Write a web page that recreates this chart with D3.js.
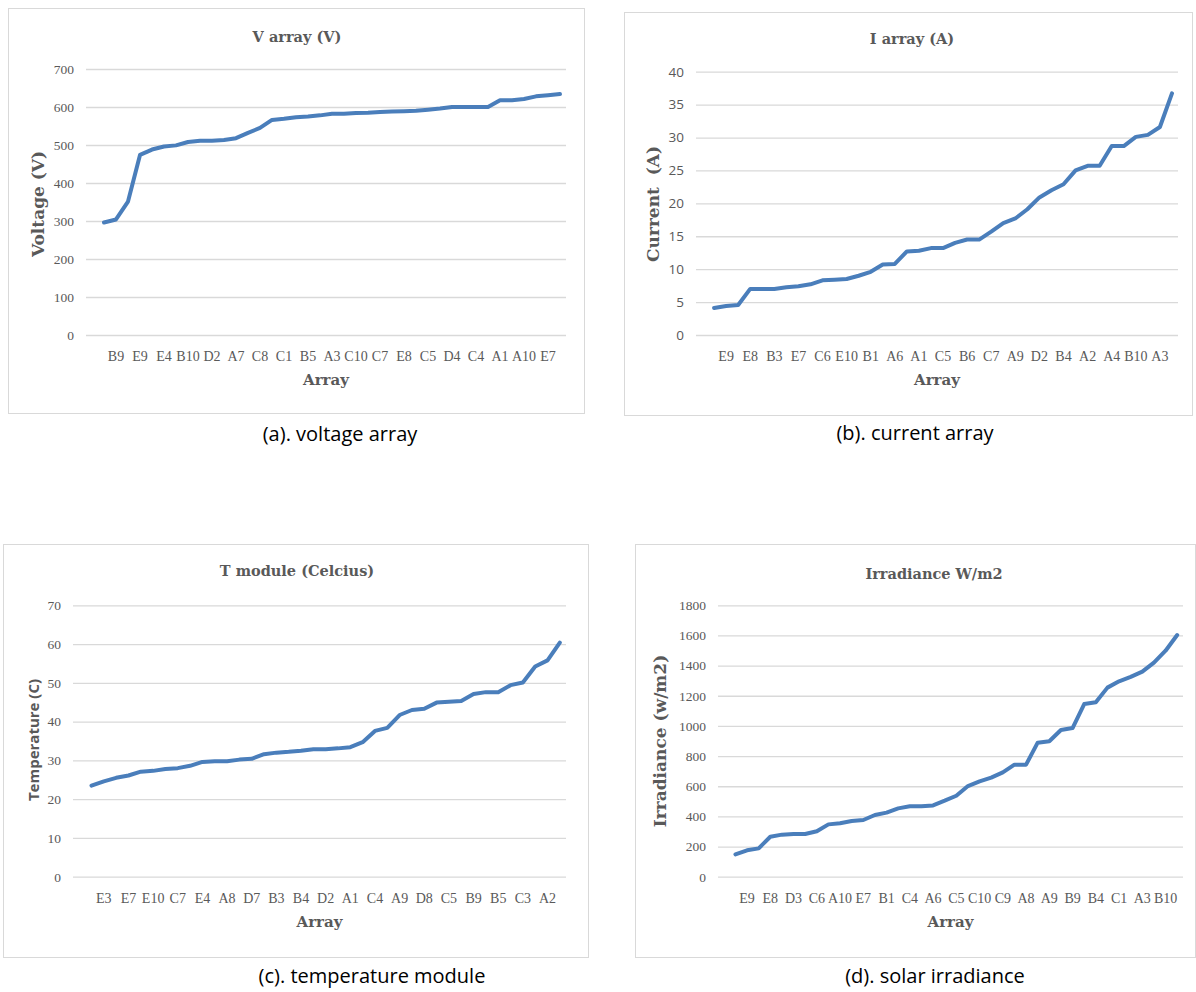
<!DOCTYPE html>
<html>
<head>
<meta charset="utf-8">
<script src="https://cdn.jsdelivr.net/npm/d3@7"></script>
<style>
  body { margin: 0; background: #fff; }
  svg { display: block; }
</style>
</head>
<body>
<svg id="drawing_region"></svg>
<script>
// values, 39 points per chart (category slot 0 is empty)
const voltageValues = [296, 304, 351, 474, 488, 496, 499, 508, 511, 511, 513, 518, 532, 545, 566,
    569, 573, 575, 578, 582, 582, 584, 585, 587, 588, 589, 590, 593, 596, 600,
    600, 600, 600, 618, 618, 621, 628, 631, 634];
const voltageLabels = ["", "B9", "E9", "E4", "B10", "D2", "A7", "C8", "C1", "B5", "A3", "C10", "C7",
    "E8", "C5", "D4", "C4", "A1", "A10", "E7"];

const currentValues = [4.1, 4.4, 4.55, 7.0, 7.0, 7.0, 7.25, 7.4, 7.7, 8.3, 8.4, 8.5, 9.0, 9.6, 10.7,
    10.8, 12.7, 12.8, 13.2, 13.2, 14.0, 14.5, 14.5, 15.7, 17.0, 17.7, 19.1, 20.9, 22.0,
    22.9, 25.0, 25.7, 25.7, 28.7, 28.7, 30.1, 30.4, 31.6, 36.7];
const currentLabels = ["", "E9", "E8", "B3", "E7", "C6", "E10", "B1", "A6", "A1", "C5", "B6", "C7",
    "A9", "D2", "B4", "A2", "A4", "B10", "A3"];

const tempValues = [23.5, 24.6, 25.5, 26.1, 27.1, 27.3, 27.8, 28.0, 28.6, 29.6, 29.8, 29.8, 30.2,
    30.4, 31.6, 32.0, 32.2, 32.5, 32.9, 32.9, 33.1, 33.4, 34.7, 37.6, 38.4, 41.7, 43.0,
    43.3, 44.9, 45.1, 45.3, 47.1, 47.6, 47.6, 49.4, 50.1, 54.2, 55.8, 60.4];
const tempLabels = ["", "E3", "E7", "E10", "C7", "E4", "A8", "D7", "B3", "B4", "D2", "A1", "C4",
    "A9", "D8", "C5", "B9", "B5", "C3", "A2"];

const irrValues = [148, 175, 188, 265, 279, 283, 283, 301, 347, 354, 369, 376, 409, 425, 453, 467,
    467, 473, 504, 537, 601, 632, 657, 692, 743, 743, 889, 898, 973, 986, 1145, 1157,
    1254, 1296, 1325, 1360, 1420, 1499, 1603];
const irrLabels = ["", "E9", "E8", "D3", "C6", "A10", "E7", "B1", "C4", "A6", "C5", "C10", "C9",
    "A8", "A9", "B9", "B4", "C1", "A3", "B10"];

const serif = "'Liberation Serif', 'DejaVu Serif', serif";
const wideSerif = "'DejaVu Serif', 'Liberation Serif', serif";
const sans = "'Open Sans', 'Noto Sans', sans-serif";
const grey = "#595959";

const svg = d3.select('#drawing_region')
    .attr('width', 1196)
    .attr('height', 992);

const charts = [
    {
        values: voltageValues, labels: voltageLabels,
        frame: {x: 8, y: 8, w: 576, h: 405},
        plot: {left: 86, right: 566, top: 69, bottom: 335},
        ymax: 700, step: 100, tickFont: serif,
        title: "V array (V)", titleX: 297, titleY: 38,
        ylabel: "Voltage (V)", ylabelFont: wideSerif, ylabelX: 39, ylabelY: 204,
        caption: "(a). voltage array", captionX: 340, captionY: 436
    },
    {
        values: currentValues, labels: currentLabels,
        frame: {x: 624, y: 12, w: 568, h: 403},
        plot: {left: 696, right: 1178, top: 71.7, bottom: 335},
        ymax: 40, step: 5, tickFont: sans,
        title: "I array (A)", titleX: 912, titleY: 40,
        ylabel: "Current  (A)", ylabelFont: wideSerif, ylabelX: 654, ylabelY: 204,
        caption: "(b). current array", captionX: 915, captionY: 435
    },
    {
        values: tempValues, labels: tempLabels,
        frame: {x: 3, y: 544, w: 585, h: 413},
        plot: {left: 73, right: 566, top: 605.3, bottom: 876.7},
        ymax: 70, step: 10, tickFont: serif,
        title: "T module (Celcius)", titleX: 297, titleY: 572,
        ylabel: "Temperature (C)", ylabelFont: sans, ylabelX: 35, ylabelY: 740,
        caption: "(c). temperature module", captionX: 372, captionY: 978
    },
    {
        values: irrValues, labels: irrLabels,
        frame: {x: 635, y: 544, w: 560, h: 413},
        plot: {left: 718, right: 1183, top: 605.3, bottom: 876.7},
        ymax: 1800, step: 200, tickFont: serif,
        title: "Irradiance W/m2", titleX: 934, titleY: 575,
        ylabel: "Irradiance (w/m2)", ylabelFont: wideSerif, ylabelX: 661, ylabelY: 741,
        caption: "(d). solar irradiance", captionX: 935, captionY: 978
    }
];

charts.forEach(c => drawChart(c));

function drawChart(c) {
    const g = svg.append('g');
    const p = c.plot;

    g.append('rect')
        .attr('x', c.frame.x + 0.5)
        .attr('y', c.frame.y + 0.5)
        .attr('width', c.frame.w)
        .attr('height', c.frame.h)
        .attr('fill', 'none')
        .attr('stroke', '#d9d9d9')
        .attr('stroke-width', 1);

    // 40 category slots, slot 0 empty
    const xscale = d3.scaleBand()
        .domain(d3.range(c.values.length + 1))
        .range([p.left, p.right]);

    const yscale = d3.scaleLinear()
        .domain([0, c.ymax])
        .range([p.bottom, p.top]);

    const yaxis = d3.axisLeft(yscale)
        .tickValues(d3.range(0, c.ymax + c.step / 2, c.step))
        .tickSize(-(p.right - p.left))
        .tickPadding(12)
        .tickFormat(d3.format('d'));

    const yaxis_group = g.append('g')
        .attr('transform', `translate(${p.left}, 0)`)
        .call(yaxis);
    yaxis_group.select('.domain').remove();
    yaxis_group.selectAll('line')
        .attr('stroke', '#d9d9d9')
        .attr('stroke-width', 1.3);
    yaxis_group.selectAll('text')
        .attr('fill', grey)
        .attr('font-family', c.tickFont)
        .attr('font-size', c.tickFont === sans ? '13.5px' : '13.5px');

    const xaxis = d3.axisBottom(xscale)
        .tickValues(d3.range(0, c.values.length + 1, 2))
        .tickSize(0)
        .tickPadding(16)
        .tickFormat(i => c.labels[i / 2]);

    const xaxis_group = g.append('g')
        .attr('transform', `translate(0, ${p.bottom})`)
        .call(xaxis);
    xaxis_group.select('.domain').remove();
    xaxis_group.selectAll('text')
        .attr('fill', grey)
        .attr('font-family', serif)
        .attr('font-size', '14px');

    const line = d3.line()
        .x((d, i) => xscale(i + 1) + xscale.bandwidth() / 2)
        .y(d => yscale(d));

    g.append('path')
        .datum(c.values)
        .attr('d', line)
        .attr('fill', 'none')
        .attr('stroke', '#4a7ebb')
        .attr('stroke-width', 4)
        .attr('stroke-linejoin', 'round')
        .attr('stroke-linecap', 'round');

    g.append('text')
        .attr('x', c.titleX)
        .attr('y', c.titleY)
        .attr('text-anchor', 'middle')
        .attr('dominant-baseline', 'middle')
        .attr('fill', grey)
        .attr('font-family', wideSerif)
        .attr('font-weight', 'bold')
        .attr('font-size', '14.5px')
        .text(c.title);

    g.append('text')
        .attr('x', (p.left + p.right) / 2)
        .attr('y', p.bottom + 46)
        .attr('text-anchor', 'middle')
        .attr('dominant-baseline', 'middle')
        .attr('fill', grey)
        .attr('font-family', wideSerif)
        .attr('font-weight', 'bold')
        .attr('font-size', '15px')
        .text("Array");

    g.append('text')
        .attr('transform', `translate(${c.ylabelX}, ${c.ylabelY}) rotate(-90)`)
        .attr('text-anchor', 'middle')
        .attr('dominant-baseline', 'middle')
        .attr('fill', grey)
        .attr('font-family', c.ylabelFont)
        .attr('font-weight', 'bold')
        .attr('font-size', c.ylabelFont === sans ? '15px' : '17px')
        .style('white-space', 'pre')
        .text(c.ylabel);

    g.append('text')
        .attr('x', c.captionX)
        .attr('y', c.captionY)
        .attr('text-anchor', 'middle')
        .attr('dominant-baseline', 'middle')
        .attr('fill', '#000')
        .attr('font-family', sans)
        .attr('font-size', '20px')
        .text(c.caption);
}
</script>
</body>
</html>
